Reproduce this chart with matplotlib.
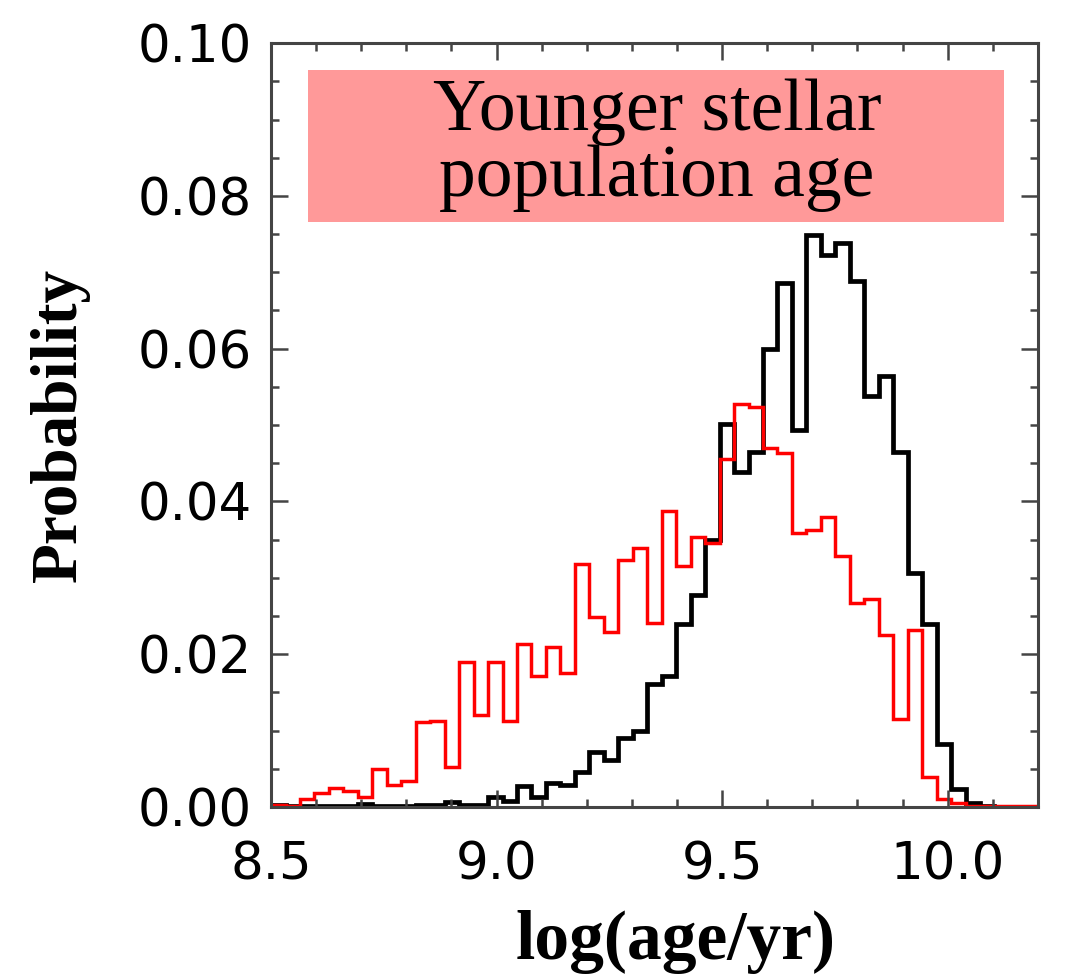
import numpy as np
import matplotlib
matplotlib.use("Agg")
import matplotlib.pyplot as plt
from matplotlib.patches import Rectangle
from matplotlib.ticker import MultipleLocator

# histogram range / binning (53 bins over the plotted range)
x_lo, x_hi, n_bins = 8.5, 10.2, 53

# probability per bin
prob_all = [0.0003, 0.0001, 0.0001, 0.0001, 0.0001, 0.0001, 0.0004, 0.0001,
            0.0001, 0.0002, 0.0003, 0.0003, 0.0006, 0.0003, 0.0003, 0.0013,
            0.0008, 0.0027, 0.0013, 0.0031, 0.0029, 0.0046, 0.0072, 0.0062,
            0.0091, 0.0099, 0.0161, 0.0172, 0.0239, 0.0278, 0.0349, 0.0502,
            0.0439, 0.0465, 0.0600, 0.0686, 0.0493, 0.0749, 0.0723, 0.0738,
            0.0689, 0.0538, 0.0564, 0.0465, 0.0306, 0.0239, 0.0082, 0.0023,
            0.0005, 0.0001, 0.0, 0.0, 0.0]
prob_young = [0.0003, 0.0002, 0.0011, 0.0018, 0.0025, 0.0021, 0.0013, 0.0050,
              0.0029, 0.0034, 0.0111, 0.0113, 0.0053, 0.0190, 0.0120, 0.0190,
              0.0112, 0.0214, 0.0171, 0.0210, 0.0176, 0.0318, 0.0249, 0.0229,
              0.0324, 0.0339, 0.0241, 0.0387, 0.0315, 0.0354, 0.0346, 0.0455,
              0.0528, 0.0524, 0.0470, 0.0463, 0.0359, 0.0363, 0.0380, 0.0329,
              0.0267, 0.0272, 0.0225, 0.0115, 0.0232, 0.0039, 0.0011, 0.0005,
              0.0001, 0.0001, 0.0001, 0.0001, 0.0001]

xticks = [8.5, 9.0, 9.5, 10.0]
yticks = [0.00, 0.02, 0.04, 0.06, 0.08, 0.10]

edges = np.linspace(x_lo, x_hi, n_bins + 1)

fig = plt.figure(figsize=(10.7, 9.8), dpi=100)
ax = fig.add_axes([0.2533, 0.1765, 0.7167, 0.7795])

ax.stairs(prob_all, edges, color="black", lw=3.4, baseline=None)
ax.stairs(prob_young, edges, color="red", lw=2.5, baseline=None)

ax.set_xlim(x_lo, x_hi)
ax.set_ylim(0, 0.10)
ax.set_xticks(xticks)
ax.set_xticklabels(["%.1f" % v for v in xticks])
ax.set_yticks(yticks)
ax.set_yticklabels(["%.2f" % v for v in yticks])
ax.xaxis.set_minor_locator(MultipleLocator(0.1))
ax.yaxis.set_minor_locator(MultipleLocator(0.005))

spine_col = "#444444"
for s in ax.spines.values():
    s.set_color(spine_col)
    s.set_linewidth(2.2)
ax.tick_params(which="both", direction="in", top=True, right=True,
               color=spine_col, width=1.8, labelsize=37, labelcolor="black")
ax.tick_params(which="major", length=12)
ax.tick_params(which="minor", length=6)
ax.tick_params(axis="x", which="major", pad=24)
ax.tick_params(axis="y", which="major", pad=14)

ax.set_xlabel("log(age/yr)", family="Liberation Serif", fontweight="bold",
              fontsize=50)
ax.xaxis.set_label_coords(0.527, -0.135)
ax.set_ylabel("Probability", family="Liberation Serif", fontweight="bold",
              fontsize=47)
ax.yaxis.set_label_coords(-0.236, 0.50)

# label box
ax.add_patch(Rectangle((0.048, 0.766), 0.908, 0.199, transform=ax.transAxes,
                       facecolor="#ff9999", edgecolor="none", zorder=3))
ax.text(0.503, 0.866, "Younger stellar\npopulation age", transform=ax.transAxes,
        ha="center", va="center", family="Liberation Serif", fontsize=53,
        linespacing=0.97, zorder=4)

fig.savefig("out.png", dpi=100)
